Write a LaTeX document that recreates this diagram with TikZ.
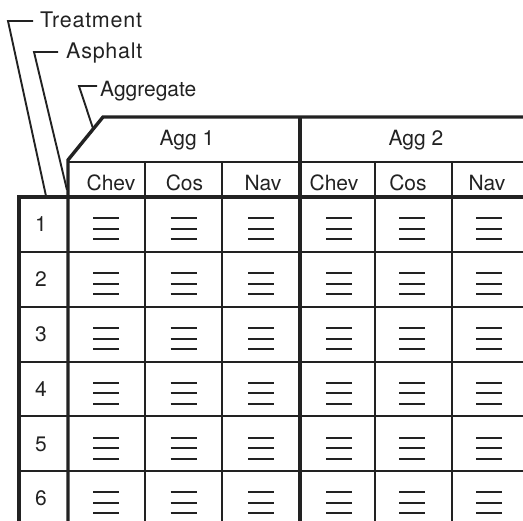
\documentclass[tikz,border=0pt]{standalone}
\usepackage{fontspec}
\setmainfont{TeX Gyre Heros}
\newfontfamily\labelfont[LetterSpace=3.5]{TeX Gyre Heros}
\usetikzlibrary{calc}
\definecolor{ink}{HTML}{222222}
\begin{document}
\begin{tikzpicture}[x=1pt,y=-1pt,line join=miter,
  thickline/.style={line width=3.4pt,draw=ink},
  midline/.style={line width=2.3pt,draw=ink},
  leader/.style={line width=1.9pt,draw=ink},
  markline/.style={line width=2pt,draw=ink},
  lbl/.style={font=\labelfont\fontsize{21.5}{24}\selectfont,text=ink,inner sep=0pt,anchor=base west},
  lblplain/.style={font=\fontsize{21}{24}\selectfont,text=ink,inner sep=0pt,anchor=base west},
  hdr/.style={font=\fontsize{21}{24}\selectfont,text=ink,inner sep=0pt,anchor=base}]
\useasboundingbox (0,0) rectangle (523,521);

% labels with leaders
\node[lbl] (treat) at (40,28) {Treatment};
\node[lbl] (asph) at (66,59) {Asphalt};
\node[lblplain] (aggr) at (100,97) {Aggregate};

\coordinate (tTick) at (33,21);
\coordinate (tCorner) at (8,21);
\coordinate (tEnd) at (46,196);
\coordinate (aTick) at (58,52);
\coordinate (aCorner) at (34,52);
\coordinate (aEnd) at (67,190);
\coordinate (gTick) at (97,86);
\coordinate (gCorner) at (79,86);

% table frame
\coordinate (diagLow) at (68,160);
\coordinate (diagHigh) at (103,117);
\coordinate (gEnd) at ($(diagLow)!0.72!(diagHigh)$);

\draw[leader] (tTick) -- (tCorner) -- (tEnd);
\draw[leader] (aTick) -- (aCorner) -- (aEnd);
\draw[leader] (gTick) -- (gCorner) -- (gEnd);

\draw[thickline] (68,521) -- (diagLow) -- (diagHigh) -- (523,117);
\draw[thickline] (19,521) -- (19,197) -- (523,197);
\draw[thickline] (300,117) -- (300,521);
\draw[midline] (68,162) -- (523,162);
\foreach \x in {145,222,375,452} \draw[midline] (\x,162) -- (\x,521);
\foreach \y in {252,307,362,416,471} \draw[midline] (19,\y) -- (523,\y);

% headers
\node[hdr] (agg1) at (187,146) {Agg 1};
\node[hdr] (agg2) at (416,146) {Agg 2};
\node[hdr] (c1) at (111,191) {Chev};
\node[hdr] (c2) at (184.5,191) {Cos};
\node[hdr] (c3) at (263,191) {Nav};
\node[hdr] (c4) at (334,191) {Chev};
\node[hdr] (c5) at (408,191) {Cos};
\node[hdr] (c6) at (487,191) {Nav};

% row numbers
\foreach \k in {1,...,6}
  \node[hdr] (r\k) at (41,{232+54.8*(\k-1)}) {\k};

% cell marks
\foreach \cx in {106,183.5,261,339,412,489}
  \foreach \k in {1,...,6}{
    \pgfmathsetmacro{\yc}{229+54.8*(\k-1)}
    \foreach \d in {-10.5,0,10.5}
      \draw[markline] ({\cx-13},{\yc+\d}) -- ({\cx+13},{\yc+\d});
  }
\end{tikzpicture}
\end{document}
